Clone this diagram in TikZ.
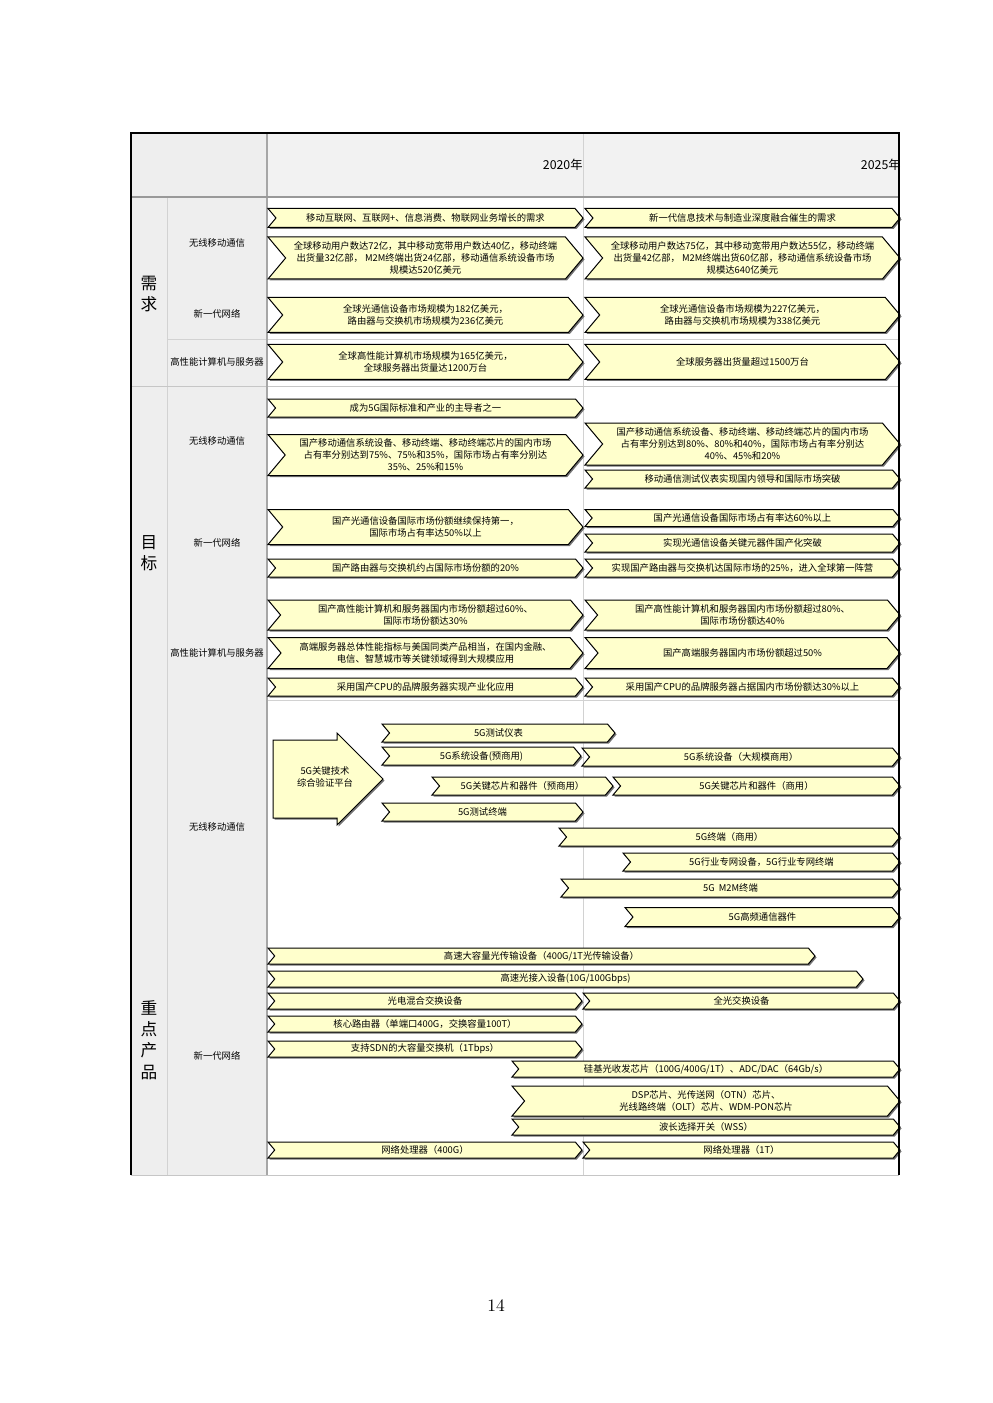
\documentclass[tikz,border=0pt]{standalone}
\usepackage{fontspec}
\newfontfamily\cjk{Noto Sans CJK SC}
\usetikzlibrary{shapes.symbols,shadows}
\definecolor{chevfill}{RGB}{255,255,204}
\definecolor{cellgray}{RGB}{238,238,238}

\tikzset{
  chev/.style 2 args={signal,signal from=west,signal to=east,signal pointer angle=100,
    draw=black,line width=0.6pt,fill=chevfill,
    drop shadow={shadow xshift=0.9pt,shadow yshift=-0.9pt,fill=black!55,opacity=1},
    inner sep=0pt,align=center,font=\cjk\fontsize{5.6}{7.4}\selectfont,
    minimum width=#1*0.6pt,minimum height=#2*0.6pt},
  lab/.style={font=\cjk\fontsize{5.6}{7}\selectfont,inner sep=0pt},
  biglab/.style={font=\cjk\fontsize{10}{12.8}\selectfont,align=center,inner sep=0pt},
  year/.style={font=\cjk\fontsize{7.4}{9}\selectfont,inner sep=0pt,anchor=east},
  thin/.style={gray!35,line width=0.5pt}
}

\begin{document}
\begin{tikzpicture}[x=0.6pt,y=-0.6pt]
\useasboundingbox (0,0) rectangle (992,1403);

% grid
\fill[cellgray] (131,133) rectangle (267,1175);
\fill[gray!10] (267,133) rectangle (899,197);
\draw[thin] (167,197) -- (167,1175);
\draw[thin] (583,133) -- (583,1175);
\draw[thin] (167,339) -- (899,339);
\draw[gray!45,line width=0.6pt] (131,387) -- (899,387);
\draw[thin] (267,700) -- (899,700);
\draw[gray!45,line width=0.6pt] (131,1175) -- (899,1175);
\draw[gray!70,line width=0.7pt] (267,133) -- (267,1175);
\draw[gray!80,line width=1.1pt] (131,197) -- (899,197);

% header
\node[year] (y20) at (583,165) {2020年};
\node[year] (y25) at (901,165) {2025年};

% left labels
\node[biglab] (xq) at (149,294) {需\\求};
\node[biglab] (mb) at (149,553) {目\\标};
\node[biglab] (zd) at (149,1040) {重\\点\\产\\品};
\node[lab] (xqwx) at (217,243) {无线移动通信};
\node[lab] (xqwl) at (217,314) {新一代网络};
\node[lab] (xqgx) at (217,362) {高性能计算机与服务器};
\node[lab] (mbwx) at (217,441) {无线移动通信};
\node[lab] (mbwl) at (217,543) {新一代网络};
\node[lab] (mbgx) at (217,653) {高性能计算机与服务器};
\node[lab] (zdwx) at (217,827) {无线移动通信};
\node[lab] (zdwl) at (217,1056) {新一代网络};

% 需求
\node[chev={315}{19}] (d1) at (425.5,218) {移动互联网、互联网+、信息消费、物联网业务增长的需求};
\node[chev={315}{19}] (d2) at (742.5,218) {新一代信息技术与制造业深度融合催生的需求};
\node[chev={315}{42}] (d3) at (425.5,258) {全球移动用户数达72亿，其中移动宽带用户数达40亿，移动终端\\出货量32亿部， M2M终端出货24亿部，移动通信系统设备市场\\规模达520亿美元};
\node[chev={315}{42}] (d4) at (742.5,258) {全球移动用户数达75亿，其中移动宽带用户数达55亿，移动终端\\出货量42亿部， M2M终端出货60亿部，移动通信系统设备市场\\规模达640亿美元};
\node[chev={315}{35}] (d5) at (425.5,315) {全球光通信设备市场规模为182亿美元，\\路由器与交换机市场规模为236亿美元};
\node[chev={315}{35}] (d6) at (742.5,315) {全球光通信设备市场规模为227亿美元，\\路由器与交换机市场规模为338亿美元};
\node[chev={315}{35}] (d7) at (425.5,362) {全球高性能计算机市场规模为165亿美元，\\全球服务器出货量达1200万台};
\node[chev={315}{35}] (d8) at (742.5,362) {全球服务器出货量超过1500万台};

% 目标
\node[chev={315}{18}] (g1) at (425.5,408) {成为5G国际标准和产业的主导者之一};
\node[chev={315}{41}] (g2) at (425.5,455) {国产移动通信系统设备、移动终端、移动终端芯片的国内市场\\占有率分别达到75\%、75\%和35\%，国际市场占有率分别达\\35\%、25\%和15\%};
\node[chev={315}{42}] (g3) at (742.5,444) {国产移动通信系统设备、移动终端、移动终端芯片的国内市场\\占有率分别达到80\%、80\%和40\%，国际市场占有率分别达\\40\%、45\%和20\%};
\node[chev={315}{18}] (g4) at (742.5,479) {移动通信测试仪表实现国内领导和国际市场突破};
\node[chev={315}{35}] (g5) at (425.5,527) {国产光通信设备国际市场份额继续保持第一，\\国际市场占有率达50\%以上};
\node[chev={315}{17}] (g6) at (742.5,518) {国产光通信设备国际市场占有率达60\%以上};
\node[chev={315}{18}] (g7) at (742.5,543) {实现光通信设备关键元器件国产化突破};
\node[chev={315}{18}] (g8) at (425.5,568) {国产路由器与交换机约占国际市场份额的20\%};
\node[chev={315}{18}] (g9) at (742.5,568) {实现国产路由器与交换机达国际市场的25\%，进入全球第一阵营};
\node[chev={315}{30}] (g10) at (425.5,615) {国产高性能计算机和服务器国内市场份额超过60\%、\\国际市场份额达30\%};
\node[chev={315}{30}] (g11) at (742.5,615) {国产高性能计算机和服务器国内市场份额超过80\%、\\国际市场份额达40\%};
\node[chev={315}{31}] (g12) at (425.5,653) {高端服务器总体性能指标与美国同类产品相当，在国内金融、\\电信、智慧城市等关键领域得到大规模应用};
\node[chev={315}{31}] (g13) at (742.5,653) {国产高端服务器国内市场份额超过50\%};
\node[chev={315}{18}] (g14) at (425.5,687) {采用国产CPU的品牌服务器实现产业化应用};
\node[chev={315}{18}] (g15) at (742.5,687) {采用国产CPU的品牌服务器占据国内市场份额达30\%以上};

% 重点产品: 无线移动通信
\draw[draw=black,line width=0.6pt,fill=chevfill,
  drop shadow={shadow xshift=0.9pt,shadow yshift=-0.9pt,fill=black!55,opacity=1}]
  (273,740) -- (337,740) -- (337,733) -- (383,779) -- (337,825) -- (337,818) -- (273,818) -- cycle;
\node[align=center,font=\cjk\fontsize{5.6}{7.2}\selectfont,inner sep=0pt] (plat) at (325,777) {5G关键技术\\综合验证平台};
\node[chev={233}{18}] (p1) at (498.5,733) {5G测试仪表};
\node[chev={199}{18}] (p2) at (481.5,756) {5G系统设备(预商用)};
\node[chev={318}{18}] (p3) at (741,757) {5G系统设备（大规模商用）};
\node[chev={181}{18}] (p4) at (522.5,786) {5G关键芯片和器件（预商用）};
\node[chev={287}{18}] (p5) at (756.5,786) {5G关键芯片和器件（商用）};
\node[chev={201}{18}] (p6) at (482.5,812) {5G测试终端};
\node[chev={341}{18}] (p7) at (729.5,837) {5G终端（商用）};
\node[chev={277}{18}] (p8) at (761.5,862) {5G行业专网设备，5G行业专网终端};
\node[chev={339}{18}] (p9) at (730.5,888) {5G\ \ M2M终端};
\node[chev={275}{19}] (p10) at (762.5,917) {5G高频通信器件};

% 重点产品: 新一代网络
\node[chev={547}{16}] (n1) at (541.5,956) {高速大容量光传输设备（400G/1T光传输设备）};
\node[chev={595}{16}] (n2) at (565.5,979) {高速光接入设备(10G/100Gbps)};
\node[chev={314}{16}] (n3) at (425,1001) {光电混合交换设备};
\node[chev={317}{16}] (n4) at (741.5,1001) {全光交换设备};
\node[chev={314}{16}] (n5) at (425,1024) {核心路由器（单端口400G，交换容量100T）};
\node[chev={314}{16}] (n6) at (425,1049) {支持SDN的大容量交换机（1Tbps）};
\node[chev={388}{16}] (n7) at (706,1069) {硅基光收发芯片（100G/400G/1T）、ADC/DAC（64Gb/s）};
\node[chev={388}{30}] (n8) at (706,1101) {DSP芯片、光传送网（OTN）芯片、\\光线路终端（OLT）芯片、WDM-PON芯片};
\node[chev={388}{16}] (n9) at (706,1127) {波长选择开关（WSS）};
\node[chev={314}{16}] (n10) at (425,1150) {网络处理器（400G）};
\node[chev={317}{16}] (n11) at (741.5,1150) {网络处理器（1T）};

% outer border
\draw[black,line width=1.5pt] (131,1175) -- (131,133) -- (899,133) -- (899,1175);

\node[font=\fontsize{10.5}{12}\selectfont,inner sep=0pt] (pg) at (496,1306) {14};
\end{tikzpicture}
\end{document}
